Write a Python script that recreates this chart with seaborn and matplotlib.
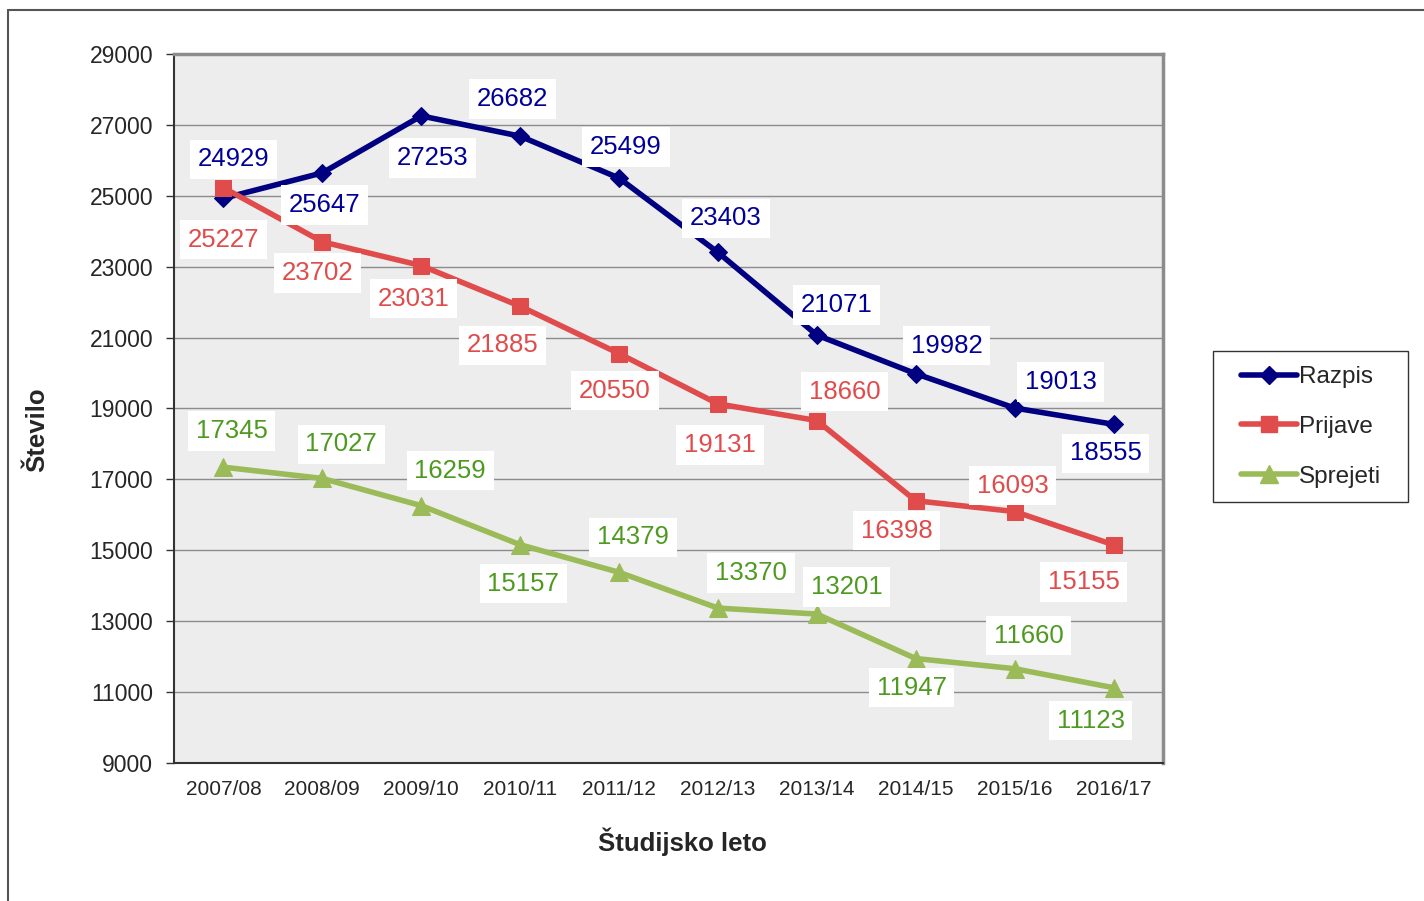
import matplotlib
matplotlib.use("Agg")
import matplotlib.pyplot as plt
import seaborn as sns
import pandas as pd
from matplotlib.lines import Line2D
from matplotlib.patches import Rectangle

# podatki
leta = ["2007/08", "2008/09", "2009/10", "2010/11", "2011/12",
        "2012/13", "2013/14", "2014/15", "2015/16", "2016/17"]
razpis = [24929, 25647, 27253, 26682, 25499, 23403, 21071, 19982, 19013, 18555]
prijave = [25227, 23702, 23031, 21885, 20550, 19131, 18660, 16398, 16093, 15155]
sprejeti = [17345, 17027, 16259, 15157, 14379, 13370, 13201, 11947, 11660, 11123]
y_ticks = [9000, 11000, 13000, 15000, 17000, 19000, 21000, 23000, 25000, 27000, 29000]

serije = ["Razpis", "Prijave", "Sprejeti"]
barve_crt = {"Razpis": "#000080", "Prijave": "#E04B4B", "Sprejeti": "#9BBB59"}
barve_oznak = {"Razpis": "#000099", "Prijave": "#E04B4B", "Sprejeti": "#4E9A20"}
markerji = {"Razpis": "D", "Prijave": "s", "Sprejeti": "^"}
velikosti = {"Razpis": 9, "Prijave": 11, "Sprejeti": 13}

# odmiki oznak (v pikslih, x desno, y gor)
odmiki = {
    "Razpis": [(10, 39), (2, -32), (11, -42), (-8, 37), (7, 31), (8, 34), (20, 30), (31, 28), (46, 26), (-8, -29)],
    "Prijave": [(0, -52), (-5, -31), (-8, -33), (-18, -39), (-4, -37), (2, -41), (28, 29), (-19, -30), (-2, 26), (-30, -37)],
    "Sprejeti": [(8, 36), (19, 34), (29, 35), (3, -39), (14, 35), (33, 35), (30, 27), (-4, -29), (14, 33), (-23, -33)],
}

df = pd.DataFrame({
    "leto": leta * 3,
    "x": list(range(len(leta))) * 3,
    "vrednost": razpis + prijave + sprejeti,
    "serija": sum([[s] * len(leta) for s in serije], []),
})

sns.set_style("white")
plt.rcParams["font.family"] = ["Liberation Sans", "DejaVu Sans"]

fig = plt.figure(figsize=(14.24, 9.01), dpi=100)
ax = fig.add_axes([174 / 1424, 1 - 763 / 901, 989 / 1424, 709 / 901])
ax.set_facecolor("#EDEDED")

for s in serije:
    d = df[df["serija"] == s]
    sns.lineplot(data=d, x="x", y="vrednost", ax=ax, color=barve_crt[s],
                 linewidth=4, marker=markerji[s], markersize=velikosti[s],
                 markeredgecolor=barve_crt[s], legend=False, zorder=3)

ax.set_xlim(-0.5, 9.5)
ax.set_ylim(9000, 29000)
ax.set_yticks(y_ticks)
ax.set_yticklabels([str(v) for v in y_ticks], fontsize=16.5)
ax.set_xticks(range(len(leta)))
ax.set_xticklabels(leta, fontsize=15)
ax.set_xticks([i - 0.5 for i in range(len(leta) + 1)], minor=True)
ax.tick_params(axis="x", which="major", length=0, pad=12)
ax.tick_params(axis="x", which="minor", length=6, width=1, color="#333333", direction="out")
ax.tick_params(axis="y", length=6, width=1, color="#333333", direction="out", pad=9, left=True)
ax.grid(axis="y", color="#8C8C8C", linewidth=1)
ax.set_axisbelow(True)

for side in ["left", "bottom"]:
    ax.spines[side].set_color("#333333")
    ax.spines[side].set_linewidth(1.5)
for side in ["top", "right"]:
    ax.spines[side].set_color("#8C8C8C")
    ax.spines[side].set_linewidth(2.5)

# oznake vrednosti
for s, vals in zip(serije, [razpis, prijave, sprejeti]):
    for i, v in enumerate(vals):
        dx, dy = odmiki[s][i]
        ax.annotate(str(v), (i, v), xytext=(dx * 0.72, dy * 0.72),
                    textcoords="offset points", ha="center", va="center",
                    fontsize=18.5, color=barve_oznak[s], zorder=5,
                    bbox=dict(boxstyle="square,pad=0.3", fc="white", ec="none"))

ax.set_xlabel("Študijsko leto", fontsize=18.5, fontweight="bold")
ax.set_ylabel("Število", fontsize=18.5, fontweight="bold")
ax.xaxis.set_label_coords(0.5137, -0.111)
ax.yaxis.set_label_coords(-0.1385, 0.47)
ax.xaxis.label.set_va("center")
ax.yaxis.label.set_va("center")

# legenda z ločenim okvirjem
handles = [Line2D([], [], color=barve_crt[s], linewidth=4, marker=markerji[s],
                  markersize=velikosti[s], markeredgecolor=barve_crt[s]) for s in serije]
fig.legend(handles, serije, loc="center left", bbox_to_anchor=(1241 / 1424, 1 - 427 / 901),
           fontsize=17.5, frameon=False, handlelength=2.3, handletextpad=0.1,
           labelspacing=1.15, borderpad=0, borderaxespad=0)
fig.add_artist(Rectangle((1213 / 1424, 1 - 502 / 901), 195 / 1424, 151 / 901,
                         transform=fig.transFigure, fill=False, edgecolor="#333333", linewidth=1))

# zunanji okvir
fig.add_artist(Line2D([8 / 1424, 1], [1 - 10 / 901, 1 - 10 / 901], color="#555555", linewidth=1.5))
fig.add_artist(Line2D([8 / 1424, 8 / 1424], [1 - 10 / 901, 0], color="#555555", linewidth=1.5))

fig.savefig("out.png", dpi=100)
